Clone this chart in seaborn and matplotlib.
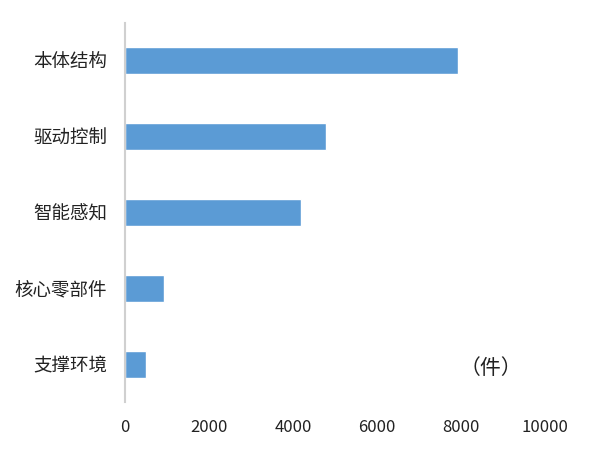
import matplotlib
matplotlib.use("Agg")
import matplotlib.pyplot as plt
import pandas as pd
import seaborn as sns

categories = ["本体结构", "驱动控制", "智能感知", "核心零部件", "支撑环境"]
counts = [7920, 4790, 4190, 920, 490]
x_ticks = [0, 2000, 4000, 6000, 8000, 10000]

df = pd.DataFrame({"category": categories, "count": counts})

sns.set_style("white")
plt.rcParams['font.family'] = ['Noto Sans CJK SC', 'DejaVu Sans']

fig = plt.figure(figsize=(5.91, 4.5), dpi=100)
ax = fig.add_axes([0.2115, 0.1067, 0.7107, 0.8422])

sns.barplot(data=df, x="count", y="category", order=categories,
            color="#5B9BD5", saturation=1, width=0.355, ax=ax)

ax.set_xlim(0, 10000)
ax.set_ylim(4.5, -0.5)
ax.set_xticks(x_ticks)
ax.set_xticklabels([str(t) for t in x_ticks], fontsize=12, color="#222222")
ax.tick_params(axis="y", labelsize=13.3, colors="#222222", length=0, pad=13)
ax.tick_params(axis="x", length=0, pad=12)
ax.set_xlabel("")
ax.set_ylabel("")

for side in ["top", "right", "bottom"]:
    ax.spines[side].set_visible(False)
ax.spines["left"].set_color("#D0D0D0")
ax.spines["left"].set_linewidth(1.5)

# unit label, bottom right
ax.text(8700, 4.05, "（件）", fontsize=15, color="#222222",
        ha="center", va="center")

fig.savefig("out.png", dpi=100)
